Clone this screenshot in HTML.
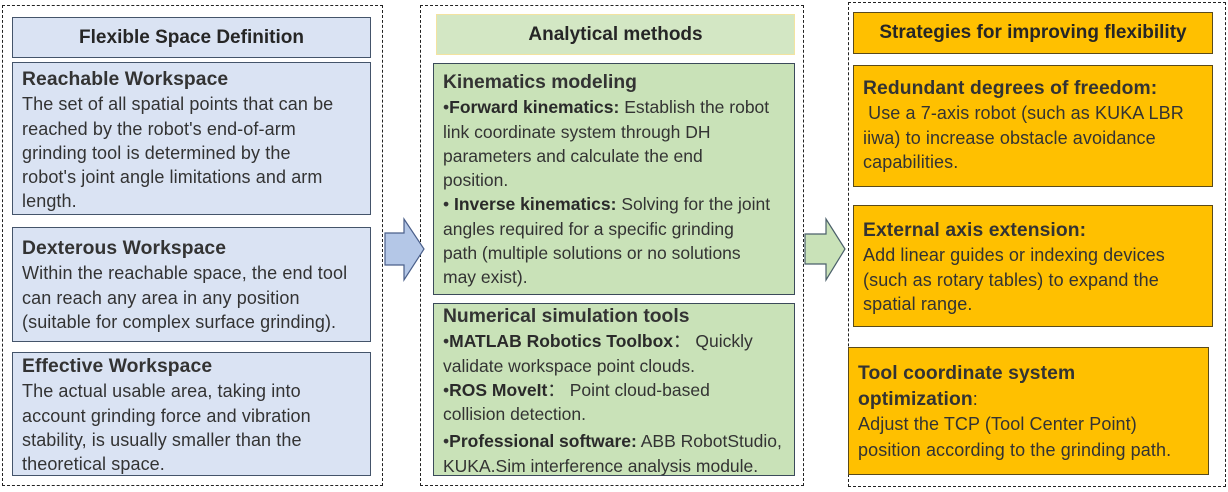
<!DOCTYPE html>
<html><head><meta charset="utf-8"><style>
html,body{margin:0;padding:0;background:#fff;}
body{width:1228px;height:492px;position:relative;overflow:hidden;font-family:"Liberation Sans",sans-serif;color:#333;}
.a{position:absolute;box-sizing:border-box;}
.dash{border:1.5px dashed #222;}
.blue{background:#dae3f3;border:1.5px solid #44546a;}
.green{background:#c9e2b8;border:1.5px solid #3b4a5a;}
.orange{background:#ffc000;border:1.5px solid #5a4a1a;}
.t{position:absolute;white-space:nowrap;font-size:18px;line-height:24.3px;letter-spacing:0.1px;}
.m{font-size:17.5px;letter-spacing:0;}
.h{font-weight:bold;font-size:19.3px;}
.hd{font-weight:bold;font-size:19px;text-align:center;display:flex;align-items:center;justify-content:center;color:#262626;}
b{color:#2a2a2a;}
</style></head><body>
<div class="a dash" style="left:2px;top:5px;width:381px;height:481px"></div>
<div class="a dash" style="left:420px;top:5px;width:384px;height:481px"></div>
<div class="a dash" style="left:848px;top:2px;width:378px;height:485px"></div>

<div class="a blue hd" style="left:12px;top:17px;width:359px;height:41px">Flexible Space Definition</div>
<div class="a blue" style="left:12px;top:62px;width:359px;height:153px"></div>
<div class="t" style="left:22px;top:67px"><span class="h">Reachable Workspace</span><br>The set of all spatial points that can be<br>reached by the robot's end-of-arm<br>grinding tool is determined by the<br>robot's joint angle limitations and arm<br>length.</div>
<div class="a blue" style="left:12px;top:227px;width:359px;height:115px"></div>
<div class="t" style="left:22px;top:236px"><span class="h">Dexterous Workspace</span><br>Within the reachable space, the end tool<br>can reach any area in any position<br>(suitable for complex surface grinding).</div>
<div class="a blue" style="left:12px;top:352px;width:359px;height:124px"></div>
<div class="t" style="left:22px;top:354px"><span class="h">Effective Workspace</span><br>The actual usable area, taking into<br>account grinding force and vibration<br>stability, is usually smaller than the<br>theoretical space.</div>

<div class="a hd" style="left:436px;top:14px;width:359px;height:41px;background:#d3e7c4;border:1.5px solid #f3e3a0">Analytical methods</div>
<div class="a green" style="left:433px;top:63px;width:362px;height:232px"></div>
<div class="t m" style="left:443px;top:70px"><span class="h">Kinematics modeling</span><br>•<b>Forward kinematics:</b> Establish the robot<br>link coordinate system through DH<br>parameters and calculate the end<br>position.<br>• <b>Inverse kinematics:</b> Solving for the joint<br>angles required for a specific grinding<br>path (multiple solutions or no solutions<br>may exist).</div>
<div class="a green" style="left:433px;top:303px;width:362px;height:173px"></div>
<div class="t m" style="left:443px;top:304px"><span class="h">Numerical simulation tools</span><br>•<b>MATLAB Robotics Toolbox</b>：&nbsp;Quickly<br>validate workspace point clouds.<br>•<b>ROS MoveIt</b>：&nbsp;Point cloud-based<br>collision detection.<br><span style="display:inline-block;margin-top:3px">•<b>Professional software:</b> ABB RobotStudio,</span><br>KUKA.Sim interference analysis module.</div>

<div class="a orange hd" style="left:853px;top:12px;width:360px;height:42px">Strategies for improving flexibility</div>
<div class="a orange" style="left:853px;top:65px;width:360px;height:122px"></div>
<div class="t" style="left:863px;top:76px"><span class="h">Redundant degrees of freedom:</span><br>&nbsp;Use a 7-axis robot (such as KUKA LBR<br>iiwa) to increase obstacle avoidance<br>capabilities.</div>
<div class="a orange" style="left:853px;top:205px;width:360px;height:122px"></div>
<div class="t" style="left:863px;top:218px"><span class="h">External axis extension:</span><br>Add linear guides or indexing devices<br>(such as rotary tables) to expand the<br>spatial range.</div>
<div class="a orange" style="left:848px;top:347px;width:361px;height:128px"></div>
<div class="t" style="left:858px;top:361px;line-height:25.5px"><span class="h">Tool coordinate system</span><br><span class="h">optimization</span>:<br>Adjust the TCP (Tool Center Point)<br>position according to the grinding path.</div>

<svg class="a" style="left:0;top:0" width="1228" height="492">
<polygon points="385,233 404,233 404,219 424,249 404,280 404,265 385,265" fill="#b4c7e7" stroke="#4a5f8a" stroke-width="1.2"/>
<polygon points="805,234 826,234 826,219 845,249 826,280 826,264 805,264" fill="#c9e2b8" stroke="#4a5f6a" stroke-width="1.2"/>
</svg>
</body></html>
